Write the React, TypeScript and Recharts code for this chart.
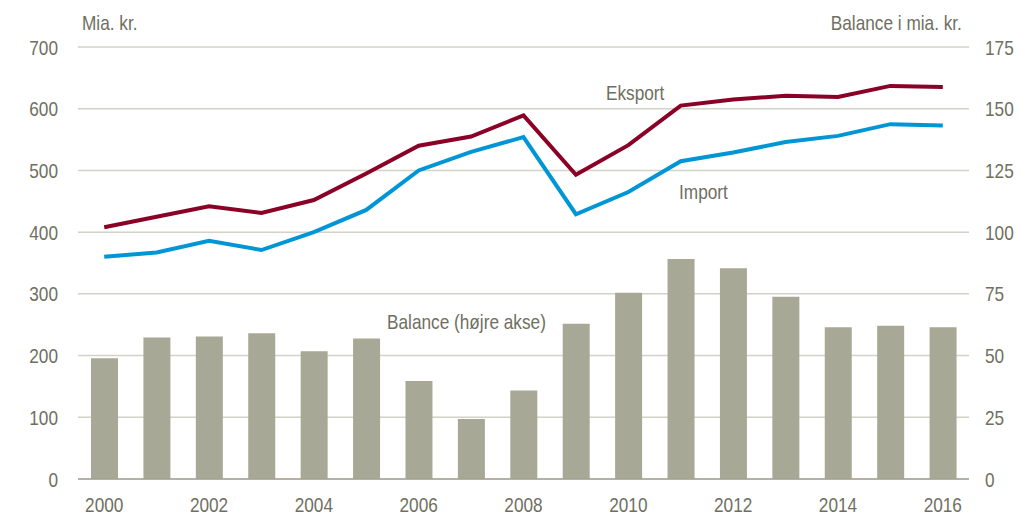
import { ComposedChart, Bar, Line, XAxis, YAxis, CartesianGrid } from "recharts"

const years = ["2000", "2001", "2002", "2003", "2004", "2005", "2006", "2007", "2008", "2009", "2010", "2011", "2012", "2013", "2014", "2015", "2016"]
const eksport = [408, 425, 442, 431, 452, 495, 540, 555, 589, 493, 541, 605, 615, 621, 619, 637, 635]
const importValues = [360, 367, 386, 371, 400, 436, 500, 530, 554, 429, 465, 515, 529, 546, 556, 575, 573]
const balance = [48.9, 57.3, 57.7, 59.0, 51.7, 56.9, 39.7, 24.3, 35.9, 62.9, 75.4, 89.1, 85.4, 73.8, 61.5, 62.1, 61.5]
const leftTicks = [0, 100, 200, 300, 400, 500, 600, 700]
const rightTicks = [0, 25, 50, 75, 100, 125, 150, 175]

const data = years.map((year, i) => ({
  year,
  eksport: eksport[i],
  import: importValues[i],
  balance: balance[i],
}))

// no narrow font installed, so squeeze Liberation Sans horizontally
const font = "'Liberation Sans', Arial, sans-serif"
const squeeze = 0.82
const textColor = "#6f6f5f"

function makeTick(anchor: "start" | "middle" | "end", dy: string) {
  return (props: any) => {
    const { x, y, payload } = props
    return (
      <g transform={`translate(${x},${y})`}>
        <text
          transform={`scale(${squeeze},1)`} textAnchor={anchor} dy={dy}
          fontSize={21} fill={textColor} fontFamily={font}
        >
          {payload.value}
        </text>
      </g>
    )
  }
}

const label = (text: string, style: React.CSSProperties, origin = "left") => (
  <div style={{
    position: "absolute", fontFamily: font, fontSize: 21,
    color: textColor, whiteSpace: "nowrap", lineHeight: 1,
    transform: `scaleX(${squeeze})`, transformOrigin: origin, ...style,
  }}>
    {text}
  </div>
)

export default function App() {
  return (
    <div style={{ position: "absolute", left: 0, top: 0, width: 1020, height: 515, background: "#fff" }}>
      <ComposedChart width={1020} height={515} data={data} margin={{ top: 47, right: 0, bottom: 0, left: 0 }}>
        <CartesianGrid vertical={false} stroke="#d2d2c8" strokeWidth={1.5} yAxisId="left" />
        <XAxis
          dataKey="year" interval={1} height={36}
          tick={makeTick("middle", "0.71em")} tickLine={false} tickSize={0} tickMargin={18}
          axisLine={{ stroke: "#a3a394", strokeWidth: 1.5 }}
        />
        <YAxis
          yAxisId="left" domain={[0, 700]} ticks={leftTicks} width={78}
          tick={makeTick("end", "0.36em")} tickLine={false} axisLine={false} tickSize={0} tickMargin={20}
        />
        <YAxis
          yAxisId="right" orientation="right" domain={[0, 175]} ticks={rightTicks} width={51}
          tick={makeTick("start", "0.36em")} tickLine={false} axisLine={false} tickSize={0} tickMargin={16}
        />
        <Bar yAxisId="right" dataKey="balance" fill="#a8a896" barSize={27} isAnimationActive={false} />
        <Line yAxisId="left" dataKey="import" stroke="#0096d6" strokeWidth={4} dot={false} isAnimationActive={false} />
        <Line yAxisId="left" dataKey="eksport" stroke="#8a0027" strokeWidth={4} dot={false} isAnimationActive={false} />
      </ComposedChart>
      {label("Mia. kr.", { left: 82, top: 12 })}
      {label("Balance i mia. kr.", { right: 58, top: 12 }, "right")}
      {label("Eksport", { left: 606, top: 82 })}
      {label("Import", { left: 679, top: 181 })}
      {label("Balance (højre akse)", { left: 387, top: 311 })}
    </div>
  )
}
